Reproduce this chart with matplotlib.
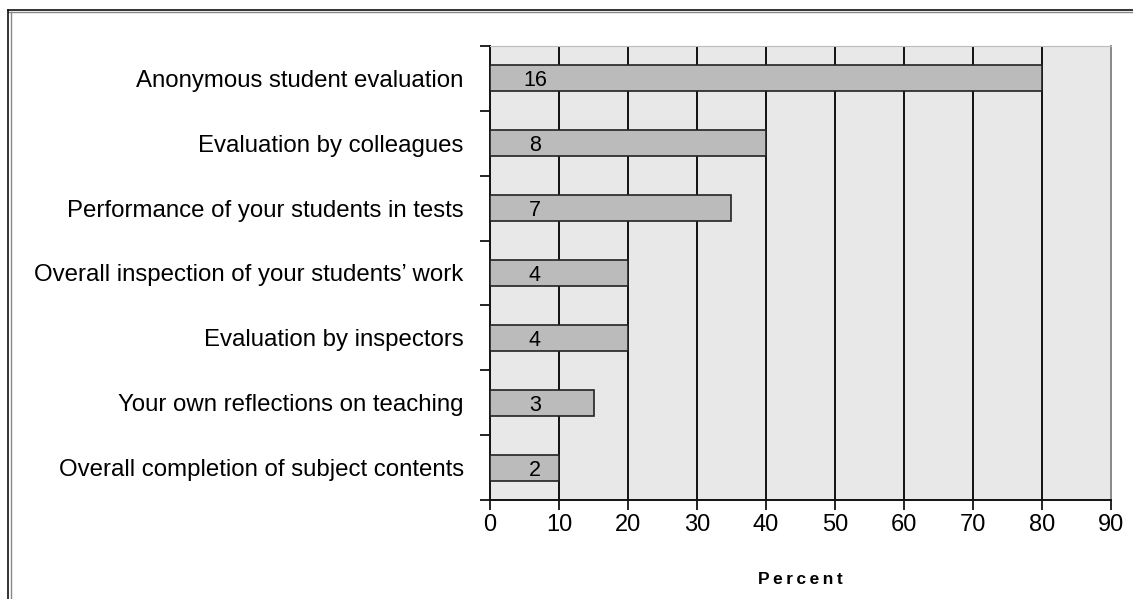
import matplotlib.pyplot as plt
from matplotlib.lines import Line2D

categories = ["Anonymous student evaluation",
              "Evaluation by colleagues",
              "Performance of your students in tests",
              "Overall inspection of your students\u2019 work",
              "Evaluation by inspectors",
              "Your own reflections on teaching",
              "Overall completion of subject contents"]
percent = [80, 40, 35, 20, 20, 15, 10]
counts = [16, 8, 7, 4, 4, 3, 2]

plt.rcParams['font.family'] = ['Liberation Sans', 'DejaVu Sans']

fig = plt.figure(figsize=(11.33, 5.99), dpi=100)
ax = fig.add_axes([0.4325, 0.1653, 0.548, 0.758])

y = list(range(len(categories)))
ax.barh(y, percent, height=0.4, color='#bbbbbb', edgecolor='#222222', linewidth=1.2, zorder=3)
for yi, c in zip(y, counts):
    ax.text(6.5, yi, str(c), ha='center', va='center_baseline', fontsize=15.5, zorder=4)

ax.set_xlim(0, 90)
ax.set_ylim(len(categories) - 0.5, -0.5)
ax.set_facecolor('#e8e8e8')
ax.set_xticks(range(0, 91, 10))
ax.set_xticklabels([str(v) for v in range(0, 91, 10)], fontsize=17)
ax.tick_params(axis='x', length=7, width=1.2, pad=3)

# category labels without ticks, boundary ticks on minor
ax.set_yticks(y)
ax.set_yticklabels(categories, fontsize=17.3)
ax.tick_params(axis='y', which='major', length=0, pad=19)
ax.set_yticks([i - 0.5 for i in range(len(categories) + 1)], minor=True)
ax.tick_params(axis='y', which='minor', length=7, width=1.2)

for v in range(10, 90, 10):
    ax.axvline(v, color='#111111', linewidth=1.4, zorder=1)

ax.spines['left'].set_color('#111111')
ax.spines['left'].set_linewidth(1.4)
ax.spines['bottom'].set_color('#111111')
ax.spines['bottom'].set_linewidth(1.4)
ax.spines['top'].set_color('#bbbbbb')
ax.spines['right'].set_color('#888888')
ax.spines['right'].set_linewidth(1.4)

ax.set_xlabel('\u2009'.join('Percent'), fontsize=12.5, fontweight='bold', labelpad=26)

# page frame (top and left double line)
fig.add_artist(Line2D([0.0075, 1.0], [0.983, 0.983], transform=fig.transFigure, color='#111111', linewidth=1.2))
fig.add_artist(Line2D([0.0075, 1.0], [0.980, 0.980], transform=fig.transFigure, color='#888888', linewidth=1.0))
fig.add_artist(Line2D([0.0075, 0.0075], [0.983, 0.0], transform=fig.transFigure, color='#111111', linewidth=1.2))
fig.add_artist(Line2D([0.0095, 0.0095], [0.980, 0.0], transform=fig.transFigure, color='#888888', linewidth=1.0))

fig.savefig('out.png', dpi=100)
